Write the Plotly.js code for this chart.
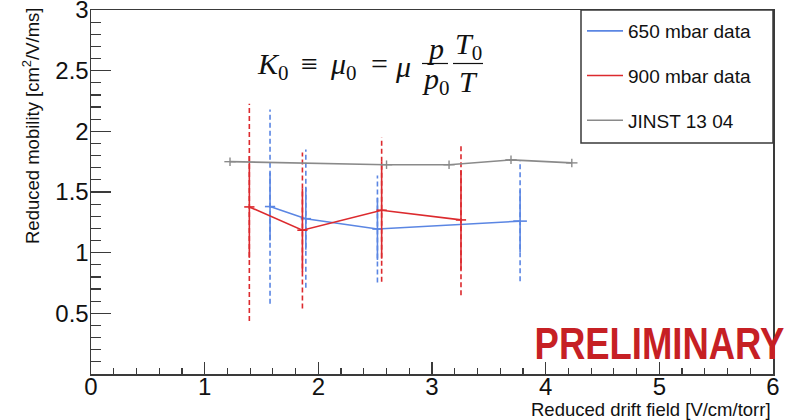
<!DOCTYPE html>
<html>
<head>
<meta charset="utf-8">
<script src="https://cdn.plot.ly/plotly-3.0.1.min.js"></script>
<style>
  html, body { margin: 0; padding: 0; background: #fff; }
  #chart { width: 793px; height: 420px; }
</style>
</head>
<body>
<div id="chart"></div>
<script>
// Reduced ion mobility vs reduced drift field
const seriesNames = ['650 mbar data', '900 mbar data', 'JINST 13 04'];

// 650 mbar measurement
const blueX = [1.575, 1.89, 2.52, 3.775];
const blueY = [1.38, 1.28, 1.195, 1.26];
const blueStat = [0.28, 0.255, 0.255, 0.255];
const blueSyst = [0.80, 0.57, 0.44, 0.495];
const blueXErr = [0.045, 0.045, 0.045, 0.06];

// 900 mbar measurement
const redX = [1.393, 1.86, 2.557, 3.255];
const redY = [1.377, 1.185, 1.35, 1.27];
const redStat = [0.42, 0.345, 0.40, 0.41];
const redSystUp = [0.85, 0.64, 0.60, 0.62];
const redSystDown = [0.94, 0.645, 0.59, 0.62];
const redXErr = [0.045, 0.045, 0.045, 0.045];

// Reference values (JINST 13 04)
const grayX = [1.223, 2.60, 3.15, 3.695, 4.23];
const grayY = [1.75, 1.725, 1.725, 1.765, 1.74];
const grayXErr = [0.05, 0.05, 0.05, 0.05, 0.05];
const grayYErr = [0.035, 0.035, 0.035, 0.035, 0.035];

const xTicks = [0, 1, 2, 3, 4, 5, 6];
const yTicks = [0.5, 1, 1.5, 2, 2.5, 3];

const BLUE = '#5b86e3';
const RED = '#dc2a2e';
const GRAY = '#8a8a8a';
const AXIS = '#3a3a3a';

// vertical segments (x, y-down) -> (x, y+up) separated by gaps
function bandSegments(xs, ys, up, down) {
  const sx = [], sy = [];
  xs.forEach((x, i) => {
    sx.push(x, x, null);
    sy.push(ys[i] - down[i], ys[i] + up[i], null);
  });
  return { x: sx, y: sy };
}

const blueSys = bandSegments(blueX, blueY, blueSyst, blueSyst);
const redSys = bandSegments(redX, redY, redSystUp, redSystDown);

const traces = [
  { x: blueSys.x, y: blueSys.y, mode: 'lines', showlegend: false, hoverinfo: 'skip',
    line: { color: BLUE, width: 1.6, dash: '5px,3px' } },
  { x: redSys.x, y: redSys.y, mode: 'lines', showlegend: false, hoverinfo: 'skip',
    line: { color: RED, width: 1.6, dash: '5px,3px' } },
  { x: blueX, y: blueY, name: seriesNames[0], legendgroup: 'a', mode: 'lines',
    line: { color: BLUE, width: 1.6 },
    error_y: { type: 'data', array: blueStat, color: BLUE, thickness: 1.6, width: 0 },
    error_x: { type: 'data', array: blueXErr, color: BLUE, thickness: 1.6, width: 0 } },
  { x: redX, y: redY, name: seriesNames[1], legendgroup: 'b', mode: 'lines',
    line: { color: RED, width: 1.6 },
    error_y: { type: 'data', array: redStat, color: RED, thickness: 1.6, width: 0 },
    error_x: { type: 'data', array: redXErr, color: RED, thickness: 1.6, width: 0 } },
  { x: grayX, y: grayY, name: seriesNames[2], legendgroup: 'c', mode: 'lines',
    line: { color: GRAY, width: 1.6 },
    error_y: { type: 'data', array: grayYErr, color: GRAY, thickness: 1.4, width: 0 },
    error_x: { type: 'data', array: grayXErr, color: GRAY, thickness: 1.4, width: 0 } }
];

// placement inside the plot frame, in paper coordinates
const PL = 91, PR = 773, PT = 10, PB = 374;
const px = v => (v - PL) / (PR - PL);
const py = v => (PB - v) / (PB - PT);

const serif = { family: 'Liberation Serif, DejaVu Serif, serif', size: 30, color: '#111' };
const sans = 'Liberation Sans, Arial, sans-serif';

function formulaPiece(text, x, y, anchor) {
  return { text: text, xref: 'paper', yref: 'paper', x: px(x), y: py(y),
    xanchor: anchor || 'left', yanchor: 'middle', showarrow: false, font: serif };
}

const annotations = [
  { text: 'Reduced drift field [V/cm/torr]', xref: 'paper', yref: 'paper',
    x: 1, y: py(409), xanchor: 'right', yanchor: 'middle', showarrow: false,
    font: { family: sans, size: 18.5, color: '#111' } },
  { text: 'Reduced mobility [cm<sup>2</sup>/V/ms]', xref: 'paper', yref: 'paper',
    x: px(31), y: 1, yshift: 4, xanchor: 'center', yanchor: 'top', textangle: -90, showarrow: false,
    font: { family: sans, size: 18.5, color: '#111' } },
  // K0 = mu0 = mu p/p0 T0/T
  formulaPiece('<i>K</i><sub>0</sub>', 255, 66),
  formulaPiece('≡', 299, 63),
  formulaPiece('<i>μ</i><sub>0</sub>', 328, 66),
  formulaPiece('=', 369, 63),
  formulaPiece('<i>μ</i>', 393, 66),
  formulaPiece('<i>p</i>', 435, 49, 'center'),
  formulaPiece('<i>p</i><sub>0</sub>', 436, 81, 'center'),
  formulaPiece('<i>T</i><sub>0</sub>', 469, 46, 'center'),
  formulaPiece('<i>T</i>', 469, 82, 'center'),
  { text: '<b>PRELIMINARY</b>', xref: 'paper', yref: 'paper', x: px(786), y: py(343),
    xanchor: 'right', yanchor: 'middle', showarrow: false,
    font: { family: sans, size: 45, color: '#c62024' } }
];

const shapes = [
  // fraction bars
  { type: 'line', xref: 'paper', yref: 'paper', x0: px(422), x1: px(448), y0: py(63.5), y1: py(63.5),
    line: { color: '#111', width: 1.2 } },
  { type: 'line', xref: 'paper', yref: 'paper', x0: px(453), x1: px(483), y0: py(63.5), y1: py(63.5),
    line: { color: '#111', width: 1.2 } },
  // legend frame
  { type: 'rect', xref: 'paper', yref: 'paper', x0: px(581), x1: 1, y0: py(143), y1: 1,
    line: { color: AXIS, width: 1.5 }, fillcolor: 'rgba(0,0,0,0)' }
];

const axisFont = { family: sans, size: 24, color: '#111' };

const layout = {
  width: 793, height: 420,
  margin: { l: PL, r: 793 - PR, t: PT, b: 420 - PB },
  paper_bgcolor: '#fff', plot_bgcolor: '#fff',
  showlegend: true,
  legend: { x: px(582), y: py(12), xanchor: 'left', yanchor: 'top', bgcolor: 'rgba(0,0,0,0)',
    borderwidth: 0, font: { family: sans, size: 19, color: '#111' },
    tracegroupgap: 17, itemwidth: 36 },
  xaxis: {
    range: [0, 6], tickmode: 'array', tickvals: xTicks, ticktext: xTicks.map(String),
    ticks: 'inside', ticklen: 12, tickwidth: 1.3, tickcolor: AXIS, ticklabelstandoff: -9,
    ticklabeloverflow: 'allow',
    minor: { tickmode: 'linear', tick0: 0, dtick: 0.2, ticks: 'inside', ticklen: 6, tickwidth: 1.2, tickcolor: AXIS },
    showline: true, linecolor: AXIS, linewidth: 1.5, mirror: true,
    showgrid: false, zeroline: false, tickfont: axisFont
  },
  yaxis: {
    range: [0, 3], tickmode: 'array', tickvals: yTicks, ticktext: yTicks.map(String),
    ticks: 'inside', ticklen: 20, tickwidth: 1.3, tickcolor: AXIS, ticklabelstandoff: -4,
    ticklabeloverflow: 'allow',
    minor: { tickmode: 'linear', tick0: 0, dtick: 0.1, ticks: 'inside', ticklen: 10, tickwidth: 1.2, tickcolor: AXIS },
    showline: true, linecolor: AXIS, linewidth: 1.5, mirror: true,
    showgrid: false, zeroline: false, tickfont: axisFont
  },
  annotations: annotations,
  shapes: shapes
};

Plotly.newPlot('chart', traces, layout, { staticPlot: true, displayModeBar: false }).then(gd => {
  // the stamp uses a condensed bold face: squeeze it horizontally toward its right edge
  gd.querySelectorAll('.annotation-text').forEach(t => {
    if (t.textContent === 'PRELIMINARY') {
      t.style.transformBox = 'fill-box';
      t.style.transformOrigin = 'right center';
      t.style.transform = 'scaleX(0.81)';
    }
  });
});
</script>
</body>
</html>
